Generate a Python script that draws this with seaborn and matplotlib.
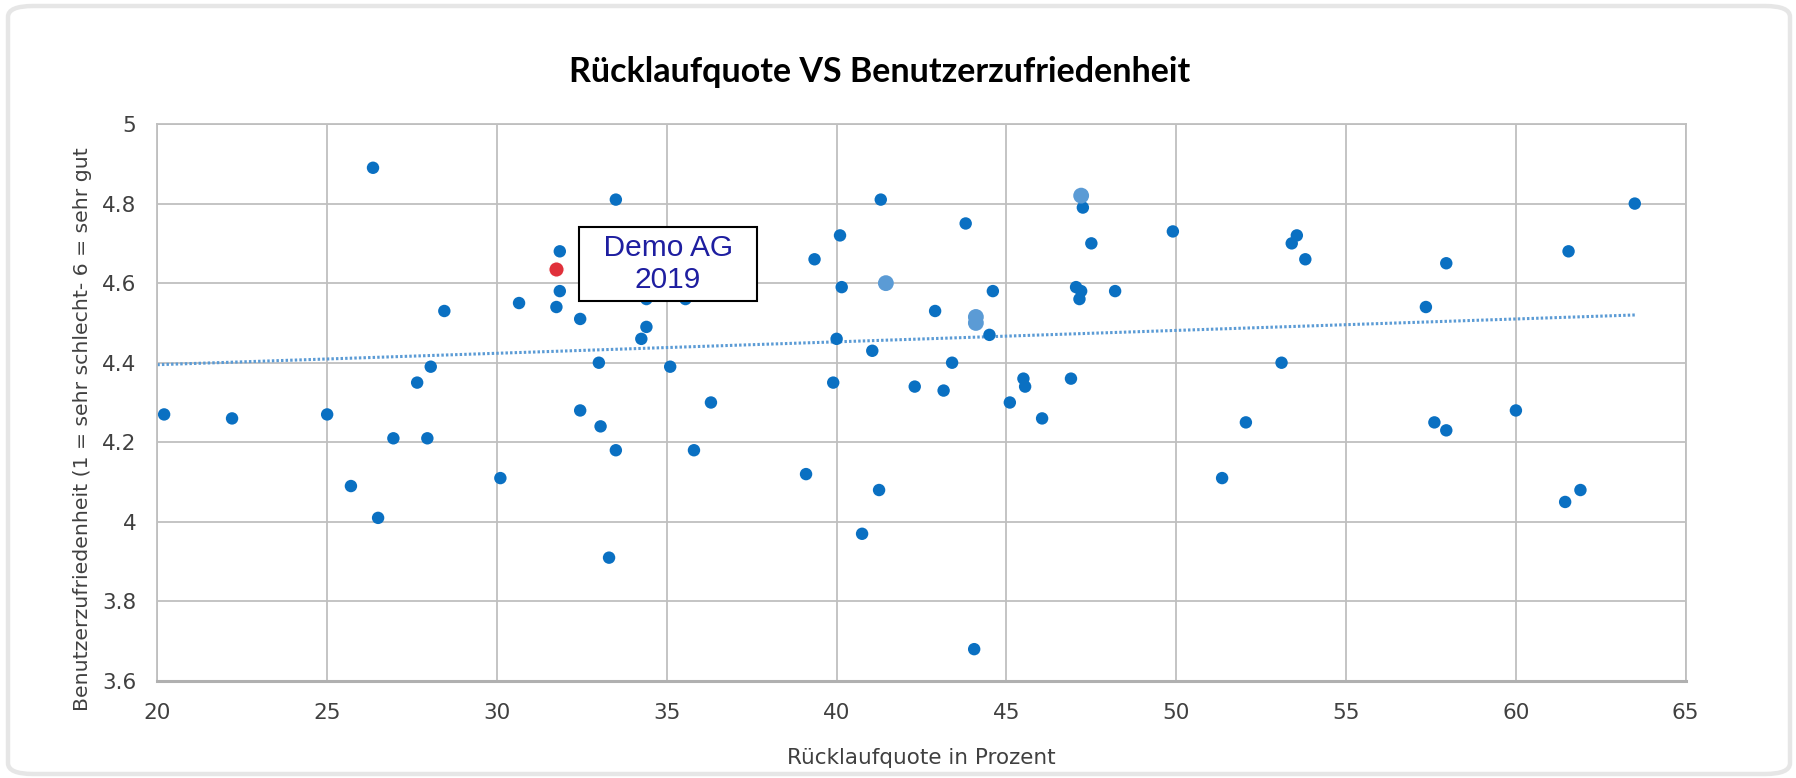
import numpy as np
import pandas as pd
import matplotlib
matplotlib.use("Agg")
import matplotlib.pyplot as plt
import seaborn as sns
from matplotlib.patches import FancyBboxPatch

# Rücklaufquote (x) und Benutzerzufriedenheit (y) je Kunde
quote = [20.2, 22.2, 25.0, 25.7, 26.35, 26.5, 26.95, 27.65, 27.95, 28.05,
         28.45, 30.1, 30.65, 31.85, 31.85, 31.75, 32.45, 32.45, 33.0, 33.05,
         33.3, 33.5, 33.5, 34.25, 34.4, 34.4, 35.1, 35.55, 35.8, 36.3,
         39.1, 39.35, 39.9, 40.0, 40.1, 40.15, 40.75, 41.05, 41.25, 41.3,
         42.3, 42.9, 43.15, 43.4, 43.8, 44.05, 44.5, 44.6, 45.1, 45.5,
         45.55, 46.05, 46.9, 47.05, 47.15, 47.2, 47.25, 47.5, 48.2, 49.9,
         51.35, 52.05, 53.1, 53.4, 53.55, 53.8, 57.35, 57.6, 57.95, 57.95,
         60.0, 61.45, 61.55, 61.9, 63.5]
zufriedenheit = [4.27, 4.26, 4.27, 4.09, 4.89, 4.01, 4.21, 4.35, 4.21, 4.39,
                 4.53, 4.11, 4.55, 4.68, 4.58, 4.54, 4.51, 4.28, 4.40, 4.24,
                 3.91, 4.81, 4.18, 4.46, 4.49, 4.56, 4.39, 4.56, 4.18, 4.30,
                 4.12, 4.66, 4.35, 4.46, 4.72, 4.59, 3.97, 4.43, 4.08, 4.81,
                 4.34, 4.53, 4.33, 4.40, 4.75, 3.68, 4.47, 4.58, 4.30, 4.36,
                 4.34, 4.26, 4.36, 4.59, 4.56, 4.58, 4.79, 4.70, 4.58, 4.73,
                 4.11, 4.25, 4.40, 4.70, 4.72, 4.66, 4.54, 4.25, 4.65, 4.23,
                 4.28, 4.05, 4.68, 4.08, 4.80]

# hellere Punkte
quote_hell = [41.45, 44.1, 44.1, 47.2]
zufr_hell = [4.60, 4.515, 4.50, 4.82]

# Demo AG 2019
quote_demo = [31.75]
zufr_demo = [4.635]

# lineare Trendlinie (Anfang/Ende)
trend_x = [20.0, 63.5]
trend_y = [4.395, 4.52]

x_ticks = [20, 25, 30, 35, 40, 45, 50, 55, 60, 65]
y_ticks = [3.6, 3.8, 4.0, 4.2, 4.4, 4.6, 4.8, 5.0]
y_ticklabels = ["3.6", "3.8", "4", "4.2", "4.4", "4.6", "4.8", "5"]

df = pd.DataFrame({"quote": quote, "zufriedenheit": zufriedenheit})
df_hell = pd.DataFrame({"quote": quote_hell, "zufriedenheit": zufr_hell})
df_demo = pd.DataFrame({"quote": quote_demo, "zufriedenheit": zufr_demo})
df_trend = pd.DataFrame({"quote": trend_x, "zufriedenheit": trend_y})

sns.set_style("white")
plt.rcParams["font.family"] = ["DejaVu Sans"]

fig = plt.figure(figsize=(17.96, 7.78), dpi=100)
ax = fig.add_axes([0.0876, 0.1247, 0.851, 0.7159])

# Rahmen um die ganze Grafik
frame = FancyBboxPatch((8 / 1796, 4 / 778), 1782 / 1796, 768 / 778,
                       boxstyle="round,pad=0,rounding_size=0.014",
                       transform=fig.transFigure, facecolor="none",
                       edgecolor="#E6E6E6", linewidth=3.2, zorder=0)
fig.patches.append(frame)

blau = "#0A70C2"
sns.lineplot(data=df_trend, x="quote", y="zufriedenheit", ax=ax, color="#5B9BD5",
             lw=2.2, linestyle=(0, (0.8, 0.7)), zorder=2)

sns.scatterplot(data=df, x="quote", y="zufriedenheit", ax=ax, color=blau,
                s=80, edgecolor="none", zorder=3)
sns.scatterplot(data=df_hell, x="quote", y="zufriedenheit", ax=ax, color="#5B9BD5",
                s=130, edgecolor="none", zorder=3)
sns.scatterplot(data=df_demo, x="quote", y="zufriedenheit", ax=ax, color="#E0303A",
                s=125, edgecolor="white", linewidth=1, zorder=4)

ax.text(35.03, 4.648, "  Demo AG  \n2019", color="#1E1EA0", fontsize=21.5,
        family=["Liberation Sans", "DejaVu Sans"], ha="center", va="center",
        linespacing=1.15, zorder=5,
        bbox=dict(boxstyle="square,pad=0.25", facecolor="white",
                  edgecolor="black", linewidth=1.5))

ax.set_xlim(20, 65)
ax.set_ylim(3.6, 5.0)
ax.set_xticks(x_ticks)
ax.set_yticks(y_ticks)
ax.set_yticklabels(y_ticklabels)
ax.grid(True, color="#BFBFBF", linewidth=1.3)
ax.set_axisbelow(True)
for s in ax.spines.values():
    s.set_color("#BFBFBF")
    s.set_linewidth(1.3)
ax.spines["bottom"].set_linewidth(2.2)
ax.spines["bottom"].set_color("#B0B0B0")
ax.tick_params(axis="both", length=0, labelsize=15.5, colors="#404040")
ax.tick_params(axis="x", pad=16)
ax.tick_params(axis="y", pad=15)

ax.set_xlabel("Rücklaufquote in Prozent", fontsize=15.5, color="#404040", labelpad=18)
ax.set_ylabel("Benutzerzufriedenheit (1 = sehr schlecht- 6 = sehr gut", fontsize=14.7,
              color="#404040")
ax.yaxis.set_label_coords(-0.0427, 0.453)

fig.text(0.49, 0.908, "Rücklaufquote VS Benutzerzufriedenheit", ha="center", va="center",
         fontsize=24.5, fontweight="bold", color="black", family=["Lato", "DejaVu Sans"])

fig.savefig("out.png", dpi=100)
